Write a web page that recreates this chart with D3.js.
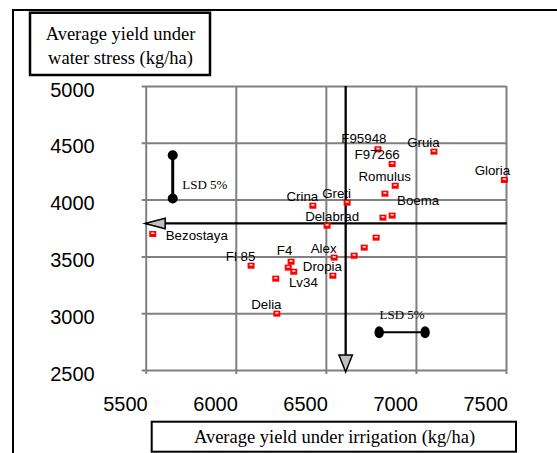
<!DOCTYPE html>
<html>
<head>
<meta charset="utf-8">
<script src="https://cdn.jsdelivr.net/npm/d3@7"></script>
<style>
body { margin: 0; background: #fff; }
.grid line { stroke: #808080; stroke-width: 2; }
.grid text { font-family: "Liberation Sans", Arial, sans-serif; font-size: 20px; fill: #000; }
.lab { font-family: "Liberation Sans", Arial, sans-serif; font-size: 13.3px; fill: #000; }
.serif { font-family: "Liberation Serif", "Times New Roman", serif; fill: #000; }
</style>
</head>
<body>
<svg id="chart" width="557" height="453"></svg>
<script>
// cultivars ("" = point drawn without a label)
var names = ["Bezostaya", "Fl 85", "F4", "", "Lv34", "", "Delia", "Alex", "Dropia", "", "", "",
	"Delabrad", "Crina", "Greti", "", "Boema", "", "Romulus", "F97266", "F95948", "Gruia", "Gloria"];
// average yield under irrigation (kg/ha)
var irrigation = [5539, 6085, 6307, 6291, 6322, 6222, 6228, 6546, 6539, 6657, 6713, 6779,
	6507, 6428, 6618, 6817, 6868, 6828, 6885, 6868, 6789, 7100, 7491];
// average yield under water stress (kg/ha)
var stress = [3697, 3418, 3453, 3401, 3365, 3304, 2996, 3489, 3330, 3506, 3577, 3665,
	3770, 3946, 3973, 3841, 3859, 4052, 4122, 4313, 4443, 4422, 4173];

var xTicks = [5500, 6000, 6500, 7000, 7500];
var yTicks = [2500, 3000, 3500, 4000, 4500, 5000];

var meanIrrigation = 6610, meanStress = 3790; //the two black reference axes
var lsdIrrigation = 255, lsdStress = 380;     //LSD 5% lengths
var lsdStressAt = [5650, 4010];  //[irrigation, lower stress] of the vertical LSD bar
var lsdIrrAt = [6796, 2832];     //[left irrigation, stress] of the horizontal LSD bar

//label nudges, px from the point (default: centred above-left)
var nudge = {
	"Bezostaya": {dx: 13, dy: 5.5, anchor: "start"},
	"F4": {dx: -6.5, dy: -6.4},
	"Lv34": {dx: 9.6, dy: 15},
	"Delabrad": {dx: 5, dy: -5},
	"Boema": {dx: 26, dy: -10.7},
	"F97266": {dx: -15, dy: -4.7},
	"F95948": {dx: -14, dy: -6},
	"Gloria": {dx: -12, dy: -4.7}
};

var svg = d3.select("#chart");

var x = d3.scaleLinear().domain([5500, 7500]).range([145.7, 506]);
var y = d3.scaleLinear().domain([2500, 5000]).range([370, 86]);
var plotW = x(7500) - x(5500), plotH = y(2500) - y(5000);

//outer frame (left and top only)
svg.append("path")
	.attr("d", "M13,453 L13,10 L557,10")
	.attr("fill", "none").attr("stroke", "#000").attr("stroke-width", 2);

//grid + y labels
var gy = svg.append("g").attr("class", "grid")
	.attr("transform", "translate(" + (x(5500) - 4) + ",0)")
	.call(d3.axisLeft(y).tickValues(yTicks).tickSize(-(plotW + 4)).tickPadding(47).tickFormat(d3.format("d")));
gy.select(".domain").remove();
gy.selectAll("text").attr("dy", "0.5em");

//grid + x labels
var gx = svg.append("g").attr("class", "grid")
	.attr("transform", "translate(0," + (y(2500) + 4) + ")")
	.call(d3.axisBottom(x).tickValues(xTicks).tickSize(-(plotH + 4)).tickPadding(22.5).tickFormat(d3.format("d")));
gx.select(".domain").remove();
gx.selectAll("text").attr("text-anchor", "end").attr("dx", 1.5);

//black reference axes with arrowheads
var hy = y(meanStress), vx = x(meanIrrigation);
svg.append("line")
	.attr("x1", x(5500)).attr("x2", x(7500) + 0.7).attr("y1", hy).attr("y2", hy)
	.attr("stroke", "#000").attr("stroke-width", 2.3);
svg.append("line")
	.attr("x1", vx).attr("x2", vx).attr("y1", y(5000)).attr("y2", y(2500))
	.attr("stroke", "#000").attr("stroke-width", 2.3);
svg.append("path")
	.attr("d", "M" + (x(5500) - 0.7) + "," + hy + " L" + (x(5500) + 19.5) + "," + (hy - 5.3) +
		" L" + (x(5500) + 19.5) + "," + (hy + 5.3) + " Z")
	.attr("fill", "#c0c0c0").attr("stroke", "#000").attr("stroke-width", 1.5);
svg.append("path")
	.attr("d", "M" + vx + "," + (y(2500) + 2) + " L" + (vx - 6.7) + "," + (y(2500) - 15) +
		" L" + (vx + 6.7) + "," + (y(2500) - 15) + " Z")
	.attr("fill", "#c0c0c0").attr("stroke", "#000").attr("stroke-width", 1.5);

//points
var pts = names.map(function(n, i) { return {name: n, irr: irrigation[i], str: stress[i]}; });
var mk = svg.append("g").selectAll("g").data(pts).enter().append("g")
	.attr("transform", d => "translate(" + x(d.irr) + "," + y(d.str) + ")");
mk.append("rect").attr("x", -3.5).attr("y", -3).attr("width", 7).attr("height", 6).attr("fill", "#ff0000");
mk.append("rect").attr("x", -1.5).attr("y", -1.5).attr("width", 3).attr("height", 1.5).attr("fill", "#fff");

//labels
svg.append("g").selectAll("text").data(pts.filter(d => d.name != "")).enter().append("text")
	.attr("class", "lab")
	.attr("x", d => x(d.irr) + (nudge[d.name] ? nudge[d.name].dx : -10.5))
	.attr("y", d => y(d.str) + (nudge[d.name] ? nudge[d.name].dy : -4.7))
	.attr("text-anchor", d => (nudge[d.name] && nudge[d.name].anchor) || "middle")
	.text(d => d.name);

//LSD bars
var lx = x(lsdStressAt[0]), ly1 = y(lsdStressAt[1]), ly2 = y(lsdStressAt[1] + lsdStress);
svg.append("line").attr("x1", lx).attr("x2", lx).attr("y1", ly1).attr("y2", ly2)
	.attr("stroke", "#000").attr("stroke-width", 3);
svg.selectAll(".lsdv").data([ly1, ly2]).enter().append("circle")
	.attr("cx", lx).attr("cy", d => d).attr("r", 5).attr("fill", "#000");
svg.append("text").attr("class", "serif").attr("font-size", 13)
	.attr("x", lx + 9.5).attr("y", ly1 - 9).text("LSD 5%");

var hx1 = x(lsdIrrAt[0]), hx2 = x(lsdIrrAt[0] + lsdIrrigation), hly = y(lsdIrrAt[1]);
svg.append("line").attr("x1", hx1).attr("x2", hx2).attr("y1", hly).attr("y2", hly)
	.attr("stroke", "#000").attr("stroke-width", 2);
svg.selectAll(".lsdh").data([hx1, hx2]).enter().append("ellipse")
	.attr("cx", d => d).attr("cy", hly).attr("rx", 4.7).attr("ry", 6).attr("fill", "#000");
svg.append("text").attr("class", "serif").attr("font-size", 13).attr("text-anchor", "middle")
	.attr("x", (hx1 + hx2) / 2).attr("y", hly - 13).text("LSD 5%");

//axis title boxes
svg.append("rect").attr("x", 30).attr("y", 12.7).attr("width", 180).attr("height", 62.3)
	.attr("fill", "#fff").attr("stroke", "#000").attr("stroke-width", 2.5);
svg.append("text").attr("class", "serif").attr("font-size", 18.5).attr("text-anchor", "middle")
	.attr("x", 120.5).attr("y", 40).text("Average yield under");
svg.append("text").attr("class", "serif").attr("font-size", 18.5).attr("text-anchor", "middle")
	.attr("x", 120.5).attr("y", 64).text("water stress (kg/ha)");

svg.append("rect").attr("x", 151.7).attr("y", 421.7).attr("width", 364.3).attr("height", 30)
	.attr("fill", "#fff").attr("stroke", "#000").attr("stroke-width", 2);
svg.append("text").attr("class", "serif").attr("font-size", 18.5).attr("text-anchor", "middle")
	.attr("x", 334.5).attr("y", 443).text("Average yield under irrigation (kg/ha)");
</script>
</body>
</html>
